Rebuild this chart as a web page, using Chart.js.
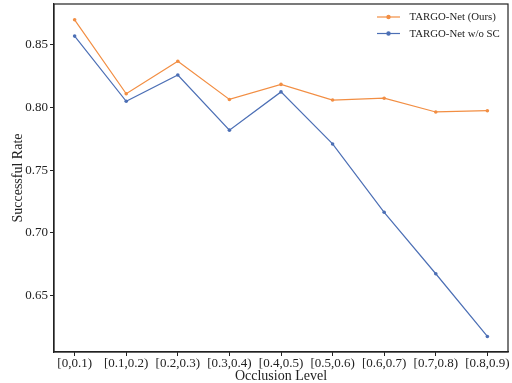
<!DOCTYPE html>
<html>
<head>
<meta charset="utf-8">
<script src="https://cdn.jsdelivr.net/npm/chart.js@4/dist/chart.umd.min.js"></script>
<style>
  html, body { margin: 0; padding: 0; background: #fff; }
  #wrap { width: 512px; height: 383px; }
</style>
</head>
<body>
<div id="wrap"><canvas id="c" width="512" height="383"></canvas></div>
<script>
// Occlusion buckets along the x axis
const levels = ['[0,0.1)', '[0.1,0.2)', '[0.2,0.3)', '[0.3,0.4)', '[0.4,0.5)', '[0.5,0.6)', '[0.6,0.7)', '[0.7,0.8)', '[0.8,0.9)'];

// Success rate per occlusion bucket
const oursRate = [0.870, 0.811, 0.837, 0.8065, 0.8185, 0.806, 0.8075, 0.7965, 0.7975];
const noScRate = [0.857, 0.805, 0.826, 0.782, 0.8125, 0.771, 0.7165, 0.6675, 0.6175];

const seriesNames = ['TARGO-Net (Ours)', 'TARGO-Net w/o SC'];
const yTickValues = [0.65, 0.70, 0.75, 0.80, 0.85];

const ORANGE = '#f28e43';
const BLUE = '#4c6fb5';
const SERIF = "'Liberation Serif', 'Times New Roman', serif";

const toPoints = arr => arr.map((v, i) => ({ x: i, y: v }));

// Box around the plot area and a compact legend in the top right corner
const framePlugin = {
  id: 'frame',
  afterDraw(chart) {
    const { ctx, chartArea: a } = chart;
    ctx.save();
    ctx.strokeStyle = '#222';
    ctx.lineWidth = 1.2;
    ctx.strokeRect(a.left, a.top, a.right - a.left, a.bottom - a.top);

    const rows = [
      { label: seriesNames[0], color: ORANGE, y: 17 },
      { label: seriesNames[1], color: BLUE, y: 33.5 }
    ];
    ctx.font = '10.8px ' + SERIF;
    ctx.textBaseline = 'middle';
    ctx.textAlign = 'left';
    rows.forEach(r => {
      ctx.strokeStyle = r.color;
      ctx.lineWidth = 1.2;
      ctx.beginPath();
      ctx.moveTo(377, r.y);
      ctx.lineTo(400, r.y);
      ctx.stroke();
      ctx.fillStyle = r.color;
      ctx.beginPath();
      ctx.arc(388.5, r.y, 2.2, 0, Math.PI * 2);
      ctx.fill();
      ctx.fillStyle = '#222';
      ctx.fillText(r.label, 409.5, r.y + 0.5);
    });
    ctx.restore();
  }
};

new Chart(document.getElementById('c'), {
  type: 'line',
  data: {
    datasets: [
      {
        label: seriesNames[0],
        data: toPoints(oursRate),
        borderColor: ORANGE,
        backgroundColor: ORANGE,
        borderWidth: 1.2,
        pointRadius: 1.8,
        pointBorderWidth: 0,
        tension: 0
      },
      {
        label: seriesNames[1],
        data: toPoints(noScRate),
        borderColor: BLUE,
        backgroundColor: BLUE,
        borderWidth: 1.2,
        pointRadius: 1.8,
        pointBorderWidth: 0,
        tension: 0
      }
    ]
  },
  options: {
    responsive: false,
    animation: false,
    devicePixelRatio: 1,
    layout: { padding: { top: 3, right: 3, bottom: 0, left: 0 } },
    plugins: {
      legend: { display: false },
      tooltip: { enabled: false }
    },
    scales: {
      x: {
        type: 'linear',
        min: -0.4,
        max: 8.4,
        afterFit(s) { s.height = 31; s.paddingLeft = 0; s.paddingRight = 0; },
        afterBuildTicks(s) { s.ticks = levels.map((_, i) => ({ value: i })); },
        grid: { display: true, drawOnChartArea: false, drawTicks: true, tickLength: 4, color: '#222', tickWidth: 1 },
        border: { display: true, color: '#222', width: 1.2 },
        ticks: {
          autoSkip: false,
          maxRotation: 0,
          padding: 0,
          color: '#222',
          font: { family: SERIF, size: 13 },
          callback: v => levels[v]
        },
        title: {
          display: true,
          text: 'Occlusion Level',
          color: '#222',
          font: { family: SERIF, size: 14, lineHeight: 1 },
          padding: { top: 0, bottom: -0.5 }
        }
      },
      y: {
        min: 0.6051,
        max: 0.8826,
        afterFit(s) { s.width = 54; s.paddingTop = 0; s.paddingBottom = 0; },
        afterBuildTicks(s) { s.ticks = yTickValues.map(v => ({ value: v })); },
        grid: { display: true, drawOnChartArea: false, drawTicks: true, tickLength: 4, color: '#222', tickWidth: 1 },
        border: { display: true, color: '#222', width: 1.2 },
        ticks: {
          padding: 2,
          color: '#222',
          font: { family: SERIF, size: 13 },
          callback: v => v.toFixed(2)
        },
        title: {
          display: true,
          text: 'Successful Rate',
          color: '#222',
          font: { family: SERIF, size: 14 },
          padding: { top: 9.6, bottom: 0 }
        }
      }
    }
  },
  plugins: [framePlugin]
});
</script>
</body>
</html>
